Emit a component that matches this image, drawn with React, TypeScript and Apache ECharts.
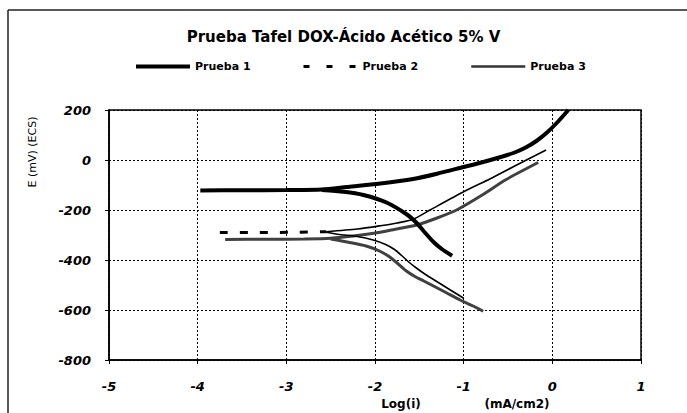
import React, { useEffect, useRef } from "react";
import * as echarts from "echarts";

const TITLE = "Prueba Tafel DOX-Ácido Acético 5% V";
const SERIES_NAMES = ["Prueba 1", "Prueba 2", "Prueba 3"];
const X_NAME_1 = "Log(i)";
const X_NAME_2 = "(mA/cm2)";
const Y_NAME = "E (mV) (ECS)";

// Prueba 1: flat + anodic branch, and cathodic branch
const p1Anodic: number[][] = [
  [-3.97, -122], [-3.5, -121], [-3.0, -120], [-2.6, -118], [-2.32, -108],
  [-1.94, -94], [-1.57, -76], [-1.3, -55], [-1.0, -28], [-0.8, -10],
  [-0.6, 10], [-0.44, 28], [-0.3, 50], [-0.18, 76], [-0.06, 110],
  [0.06, 152], [0.18, 200],
];
const p1Cathodic: number[][] = [
  [-2.6, -120], [-2.35, -127], [-2.13, -140], [-1.87, -170], [-1.64, -218],
  [-1.53, -252], [-1.45, -285], [-1.34, -328], [-1.24, -358], [-1.13, -383],
];

// Prueba 2: flat (dashed), anodic and cathodic branches
const p2Flat: number[][] = [
  [-3.75, -290], [-3.3, -290], [-2.9, -289], [-2.55, -287],
];
const p2Anodic: number[][] = [
  [-2.55, -287], [-2.2, -276], [-1.94, -263], [-1.75, -252], [-1.57, -237],
  [-1.38, -200], [-1.0, -127], [-0.7, -75], [-0.44, -27], [-0.07, 40],
];
const p2Cathodic: number[][] = [
  [-2.55, -289], [-2.4, -298], [-2.2, -306], [-2.02, -320], [-1.88, -338],
  [-1.78, -358], [-1.7, -382], [-1.62, -408], [-1.53, -433], [-1.43, -458],
  [-1.34, -478], [-1.15, -520], [-1.0, -553],
];

// Prueba 3: flat + anodic branch, and cathodic branch
const p3Anodic: number[][] = [
  [-3.69, -318], [-3.2, -317], [-2.8, -316], [-2.5, -313], [-2.2, -302],
  [-1.94, -289], [-1.83, -281], [-1.53, -260], [-1.3, -232], [-1.08, -200],
  [-0.8, -142], [-0.52, -78], [-0.16, -10],
];
const p3Cathodic: number[][] = [
  [-2.5, -316], [-2.3, -329], [-2.1, -344], [-1.95, -364], [-1.85, -384],
  [-1.75, -412], [-1.65, -443], [-1.55, -466], [-1.45, -484], [-1.34, -504],
  [-1.2, -530], [-1.04, -560], [-0.9, -583], [-0.78, -605],
];

const X_MIN = -5, X_MAX = 1, X_STEP = 1;
const Y_MIN = -800, Y_MAX = 200, Y_STEP = 200;

const FONT = "DejaVu Sans";

export default function App() {
  const ref = useRef<HTMLDivElement>(null);
  useEffect(() => {
    if (!ref.current) return;
    const chart = echarts.init(ref.current, null, { renderer: "svg" });
    const p1Style = { color: "#000", width: 4, type: "solid" as const };
    const p2Dash = { color: "#000", width: 3, type: [8, 12] as any };
    const p2Thin = { color: "#000", width: 1.6, type: "solid" as const };
    const p3Style = { color: "#404040", width: 3, type: "solid" as const };
    const mk = (name: string, data: number[][], lineStyle: any, z = 2) => ({
      type: "line",
      name,
      data,
      symbol: "none",
      showSymbol: false,
      smooth: 0.25,
      lineStyle,
      itemStyle: { color: lineStyle.color },
      z,
    });
    const legendText = { fontFamily: FONT, fontSize: 11, fontWeight: "bold", color: "#000" };
    const legendCommon = {
      top: 61,
      padding: 0,
      itemWidth: 54,
      itemHeight: 14,
      itemGap: 0,
      textStyle: legendText,
      selectedMode: false,
      itemStyle: { opacity: 0 },
    };
    chart.setOption({
      animation: false,
      backgroundColor: "#fff",
      title: {
        text: TITLE,
        left: "center",
        top: 24,
        textStyle: { fontFamily: FONT, fontSize: 15, fontWeight: "bold", color: "#000" },
      },
      legend: [
        { ...legendCommon, left: 134, data: [SERIES_NAMES[0]], lineStyle: { width: 4, color: "#000" } },
        { ...legendCommon, left: 302, data: [SERIES_NAMES[1]], lineStyle: { width: 3, color: "#000", type: [6, 17] } },
        { ...legendCommon, left: 470, data: [SERIES_NAMES[2]], lineStyle: { width: 2.5, color: "#333" } },
      ],
      grid: {
        left: 109,
        right: 46,
        top: 110,
        bottom: 53,
        show: true,
        borderColor: "#000",
        borderWidth: 1.5,
        backgroundColor: "transparent",
      },
      xAxis: {
        type: "value",
        min: X_MIN,
        max: X_MAX,
        interval: X_STEP,
        axisLine: { show: true, onZero: false, lineStyle: { color: "#000", width: 1.5 } },
        axisTick: { show: true, inside: false, length: 4, lineStyle: { color: "#000" } },
        axisLabel: {
          margin: 20,
          fontFamily: FONT,
          fontSize: 13,
          fontWeight: "bold",
          fontStyle: "italic",
          color: "#000",
        },
        splitLine: { show: true, lineStyle: { color: "#000", width: 1, type: [2, 2] } },
      },
      yAxis: {
        type: "value",
        min: Y_MIN,
        max: Y_MAX,
        interval: Y_STEP,
        axisLine: { show: true, onZero: false, lineStyle: { color: "#000", width: 1.5 } },
        axisTick: { show: true, inside: false, length: 4, lineStyle: { color: "#000" } },
        axisLabel: {
          margin: 18,
          fontFamily: FONT,
          fontSize: 13,
          fontWeight: "bold",
          fontStyle: "italic",
          color: "#000",
        },
        splitLine: { show: true, lineStyle: { color: "#000", width: 1, type: [2, 2] } },
      },
      graphic: [
        { type: "line", shape: { x1: 8, y1: 10, x2: 687, y2: 10 }, style: { stroke: "#222", lineWidth: 1.5 } },
        { type: "line", shape: { x1: 8, y1: 10, x2: 8, y2: 413 }, style: { stroke: "#222", lineWidth: 1.5 } },
        {
          type: "text",
          x: 32,
          y: 152,
          rotation: Math.PI / 2,
          style: {
            text: Y_NAME,
            fill: "#000",
            font: `11px "${FONT}"`,
            textAlign: "center",
            textVerticalAlign: "middle",
          },
        },
        {
          type: "text",
          x: 401,
          y: 404,
          style: {
            text: X_NAME_1,
            fill: "#000",
            font: `bold 12px "${FONT}"`,
            textAlign: "center",
            textVerticalAlign: "middle",
          },
        },
        {
          type: "text",
          x: 517,
          y: 404,
          style: {
            text: X_NAME_2,
            fill: "#000",
            font: `bold 12px "${FONT}"`,
            textAlign: "center",
            textVerticalAlign: "middle",
          },
        },
      ],
      series: [
        mk(SERIES_NAMES[0], p1Anodic, p1Style, 4),
        mk(SERIES_NAMES[0], p1Cathodic, p1Style, 4),
        mk(SERIES_NAMES[1], p2Flat, p2Dash, 3),
        mk(SERIES_NAMES[1], p2Anodic, p2Thin, 3),
        mk(SERIES_NAMES[1], p2Cathodic, p2Thin, 3),
        mk(SERIES_NAMES[2], p3Anodic, p3Style, 2),
        mk(SERIES_NAMES[2], p3Cathodic, p3Style, 2),
      ],
    });
    return () => chart.dispose();
  }, []);
  return (
    <div
      ref={ref}
      style={{ position: "fixed", left: 0, top: 0, width: 687, height: 413 }}
    />
  );
}
